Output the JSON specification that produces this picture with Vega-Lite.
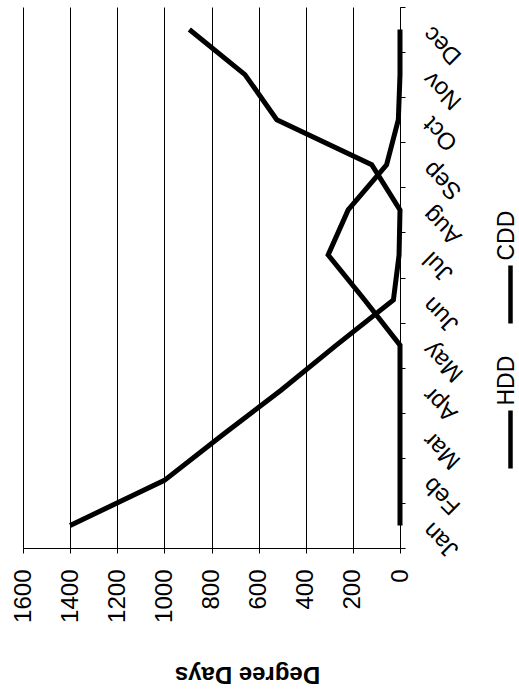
{
  "$schema": "https://vega.github.io/schema/vega-lite/v6.json",
  "width": 377,
  "height": 541,
  "autosize": {"type": "none"},
  "padding": {"left": 23, "top": 7, "right": 119, "bottom": 142},
  "background": "white",
  "config": {
    "view": {"stroke": null},
    "font": "Liberation Sans"
  },
  "data": {
    "values": [
      {"month": "Jan", "mo": 1, "series": "HDD", "dd": 1400},
      {"month": "Feb", "mo": 2, "series": "HDD", "dd": 1000},
      {"month": "Mar", "mo": 3, "series": "HDD", "dd": 755},
      {"month": "Apr", "mo": 4, "series": "HDD", "dd": 505},
      {"month": "May", "mo": 5, "series": "HDD", "dd": 270},
      {"month": "Jun", "mo": 6, "series": "HDD", "dd": 28},
      {"month": "Jul", "mo": 7, "series": "HDD", "dd": 4},
      {"month": "Aug", "mo": 8, "series": "HDD", "dd": 0},
      {"month": "Sep", "mo": 9, "series": "HDD", "dd": 120},
      {"month": "Oct", "mo": 10, "series": "HDD", "dd": 523},
      {"month": "Nov", "mo": 11, "series": "HDD", "dd": 658},
      {"month": "Dec", "mo": 12, "series": "HDD", "dd": 894},
      {"month": "Jan", "mo": 1, "series": "CDD", "dd": 0},
      {"month": "Feb", "mo": 2, "series": "CDD", "dd": 0},
      {"month": "Mar", "mo": 3, "series": "CDD", "dd": 0},
      {"month": "Apr", "mo": 4, "series": "CDD", "dd": 0},
      {"month": "May", "mo": 5, "series": "CDD", "dd": 0},
      {"month": "Jun", "mo": 6, "series": "CDD", "dd": 150},
      {"month": "Jul", "mo": 7, "series": "CDD", "dd": 305},
      {"month": "Aug", "mo": 8, "series": "CDD", "dd": 220},
      {"month": "Sep", "mo": 9, "series": "CDD", "dd": 57},
      {"month": "Oct", "mo": 10, "series": "CDD", "dd": 7},
      {"month": "Nov", "mo": 11, "series": "CDD", "dd": 0},
      {"month": "Dec", "mo": 12, "series": "CDD", "dd": 0}
    ]
  },
  "mark": {"type": "line", "strokeWidth": 5, "strokeJoin": "miter"},
  "encoding": {
    "x": {
      "field": "dd",
      "type": "quantitative",
      "scale": {"domain": [0, 1600], "reverse": true, "nice": false},
      "axis": {
        "values": [0, 200, 400, 600, 800, 1000, 1200, 1400, 1600],
        "format": "d",
        "grid": true,
        "gridColor": "black",
        "gridOpacity": 1,
        "gridWidth": 1,
        "domainColor": "black",
        "tickColor": "black",
        "tickSize": 5,
        "labelAngle": 270,
        "labelFontSize": 24,
        "labelColor": "black",
        "labelPadding": 16,
        "labelFlush": false,
        "labelOverlap": false,
        "title": "Degree Days",
        "titleAngle": 180,
        "titleFontSize": 24,
        "titleFontWeight": "bold",
        "titleColor": "black",
        "titleAlign": "center",
        "titleBaseline": "middle",
        "titleX": 224,
        "titleY": 125
      }
    },
    "y": {
      "field": "month",
      "type": "ordinal",
      "scale": {
        "type": "band",
        "domain": ["Dec", "Nov", "Oct", "Sep", "Aug", "Jul", "Jun", "May", "Apr", "Mar", "Feb", "Jan"],
        "paddingInner": 0,
        "paddingOuter": 0
      },
      "axis": {
        "orient": "right",
        "title": null,
        "grid": false,
        "tickBand": "extent",
        "tickSize": 5,
        "tickColor": "black",
        "domainColor": "black",
        "labelAngle": 225,
        "labelAlign": "right",
        "labelBaseline": "middle",
        "labelFontSize": 24,
        "labelColor": "black",
        "labelPadding": 22
      }
    },
    "color": {
      "field": "series",
      "type": "nominal",
      "scale": {"domain": ["CDD", "HDD"], "range": ["black", "black"]},
      "legend": {
        "orient": "none",
        "legendX": 456,
        "legendY": 256,
        "direction": "vertical",
        "title": null,
        "padding": 0,
        "symbolType": "M0,-1L0,1",
        "symbolSize": 3364,
        "symbolStrokeWidth": 4.5,
        "labelFontSize": 23,
        "labelColor": "black",
        "labelOffset": 0,
        "labelAlign": "left",
        "labelBaseline": "middle",
        "rowPadding": 22,
        "encoding": {
          "labels": {
            "angle": {"value": 270},
            "dx": {"value": 34},
            "dy": {"value": -35}
          }
        }
      }
    },
    "order": {"field": "mo", "type": "quantitative"}
  }
}
